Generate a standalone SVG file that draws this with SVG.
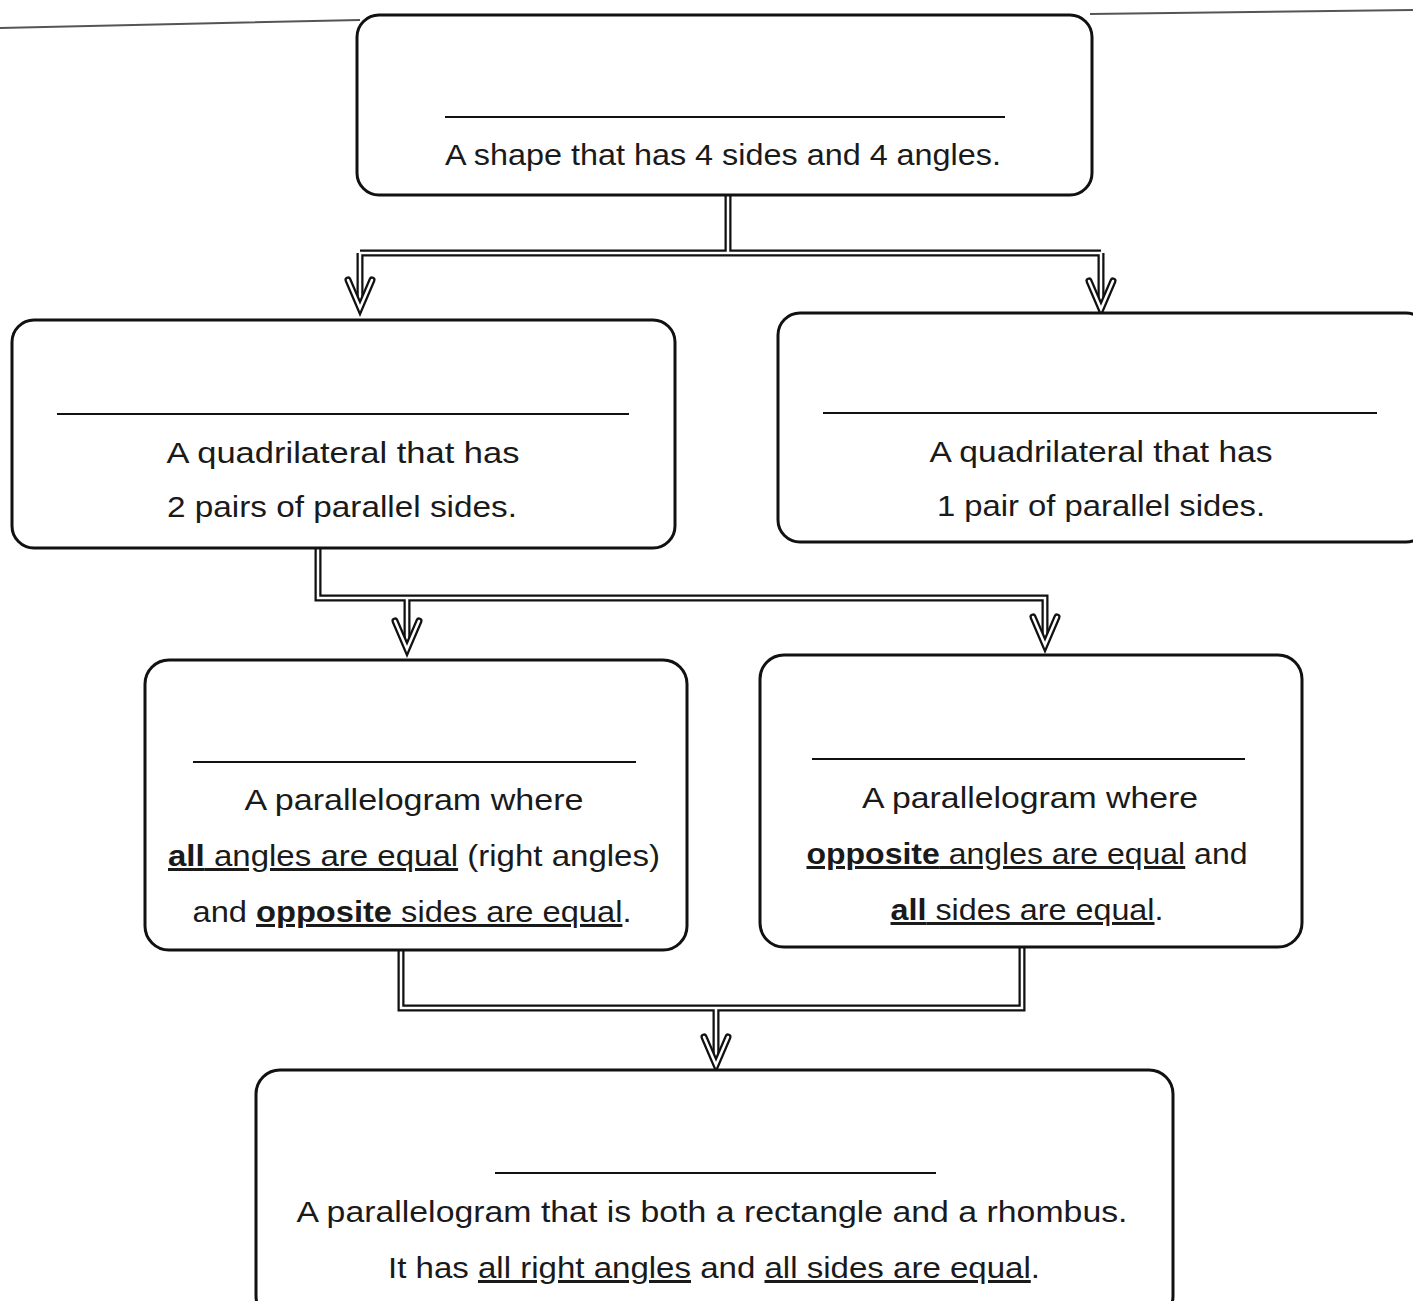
<svg xmlns="http://www.w3.org/2000/svg" xmlns:xlink="http://www.w3.org/1999/xlink" width="1413" height="1301" viewBox="0 0 1413 1301">
<style>
.box{fill:#fff;stroke:#111;stroke-width:3}
.blank{stroke:#111;stroke-width:2}
.t{font-family:"Liberation Sans",Arial,sans-serif;font-size:30px;fill:#1a1a1a;text-anchor:middle}
.u{text-decoration:underline}
.b{font-weight:bold}
.pipeO{fill:none;stroke:#111;stroke-width:7;stroke-linejoin:miter}
.pipeI{fill:none;stroke:#fff;stroke-width:2.5;stroke-linejoin:miter}
.scan{stroke:#555;stroke-width:2;fill:none}
</style>
<defs>
<g id="arrowV">
<path d="M-12,-30 L0,-2 L12,-30" class="pipeO" stroke-linecap="round"/>
<path d="M-12,-30 L0,-2 L12,-30" class="pipeI" stroke-linecap="round"/>
</g>
</defs>
<rect width="1413" height="1301" fill="#fff"/>
<path class="scan" d="M0,28 L360,20 M1090,14 L1413,10"/>

<g id="connectors">
<path class="pipeO" d="M728,196 V253 M360,253 H1101 M360,253 V300 M1101,253 V300"/>
<path class="pipeI" d="M728,196 V253 H360 V300 M728,253 H1101 V300"/>
<use xlink:href="#arrowV" x="360" y="310"/>
<use xlink:href="#arrowV" x="1101" y="311"/>

<path class="pipeO" d="M318,546 V598 H1045 V640 M407,598 V640"/>
<path class="pipeI" d="M318,546 V598 H1045 V640 M407,598 V640"/>
<use xlink:href="#arrowV" x="407" y="651"/>
<use xlink:href="#arrowV" x="1045" y="647"/>

<path class="pipeO" d="M401,950 V1008 H1022 V947 M716,1008 V1056"/>
<path class="pipeI" d="M401,950 V1008 H1022 V947 M716,1008 V1056"/>
<use xlink:href="#arrowV" x="716" y="1067"/>
</g>

<g id="node-quadrilateral">
<rect class="box" x="357" y="15" width="735" height="180" rx="22"/>
<line class="blank" x1="445" y1="117" x2="1005" y2="117"/>
<text class="t" x="723" y="165" textLength="556" lengthAdjust="spacingAndGlyphs">A shape that has 4 sides and 4 angles.</text>
</g>

<g id="node-parallelogram">
<rect class="box" x="12" y="320" width="663" height="228" rx="22"/>
<line class="blank" x1="57" y1="414" x2="629" y2="414"/>
<text class="t" x="343" y="463" textLength="353" lengthAdjust="spacingAndGlyphs">A quadrilateral that has</text>
<text class="t" x="342" y="517" textLength="350" lengthAdjust="spacingAndGlyphs">2 pairs of parallel sides.</text>
</g>

<g id="node-trapezium">
<rect class="box" x="778" y="313" width="650" height="229" rx="22"/>
<line class="blank" x1="823" y1="413" x2="1377" y2="413"/>
<text class="t" x="1101" y="462" textLength="343" lengthAdjust="spacingAndGlyphs">A quadrilateral that has</text>
<text class="t" x="1101" y="516" textLength="328" lengthAdjust="spacingAndGlyphs">1 pair of parallel sides.</text>
</g>

<g id="node-rectangle">
<rect class="box" x="145" y="660" width="542" height="290" rx="24"/>
<line class="blank" x1="193" y1="762" x2="636" y2="762"/>
<text class="t" x="414" y="810" textLength="339" lengthAdjust="spacingAndGlyphs">A parallelogram where</text>
<text class="t" x="414" y="866" textLength="492" lengthAdjust="spacingAndGlyphs"><tspan class="u"><tspan class="b">all</tspan> angles are equal</tspan> (right angles)</text>
<text class="t" x="412" y="922" textLength="439" lengthAdjust="spacingAndGlyphs">and <tspan class="u"><tspan class="b">opposite</tspan> sides are equal</tspan>.</text>
</g>

<g id="node-rhombus">
<rect class="box" x="760" y="655" width="542" height="292" rx="24"/>
<line class="blank" x1="812" y1="759" x2="1245" y2="759"/>
<text class="t" x="1030" y="808" textLength="336" lengthAdjust="spacingAndGlyphs">A parallelogram where</text>
<text class="t" x="1027" y="864" textLength="441" lengthAdjust="spacingAndGlyphs"><tspan class="u"><tspan class="b">opposite</tspan> angles are equal</tspan> and</text>
<text class="t" x="1027" y="920" textLength="273" lengthAdjust="spacingAndGlyphs"><tspan class="u"><tspan class="b">all</tspan> sides are equal</tspan>.</text>
</g>

<g id="node-square">
<rect class="box" x="256" y="1070" width="917" height="250" rx="24"/>
<line class="blank" x1="495" y1="1173" x2="936" y2="1173"/>
<text class="t" x="712" y="1222" textLength="831" lengthAdjust="spacingAndGlyphs">A parallelogram that is both a rectangle and a rhombus.</text>
<text class="t" x="714" y="1278" textLength="652" lengthAdjust="spacingAndGlyphs">It has <tspan class="u">all right angles</tspan> and <tspan class="u">all sides are equal</tspan>.</text>
</g>
</svg>
